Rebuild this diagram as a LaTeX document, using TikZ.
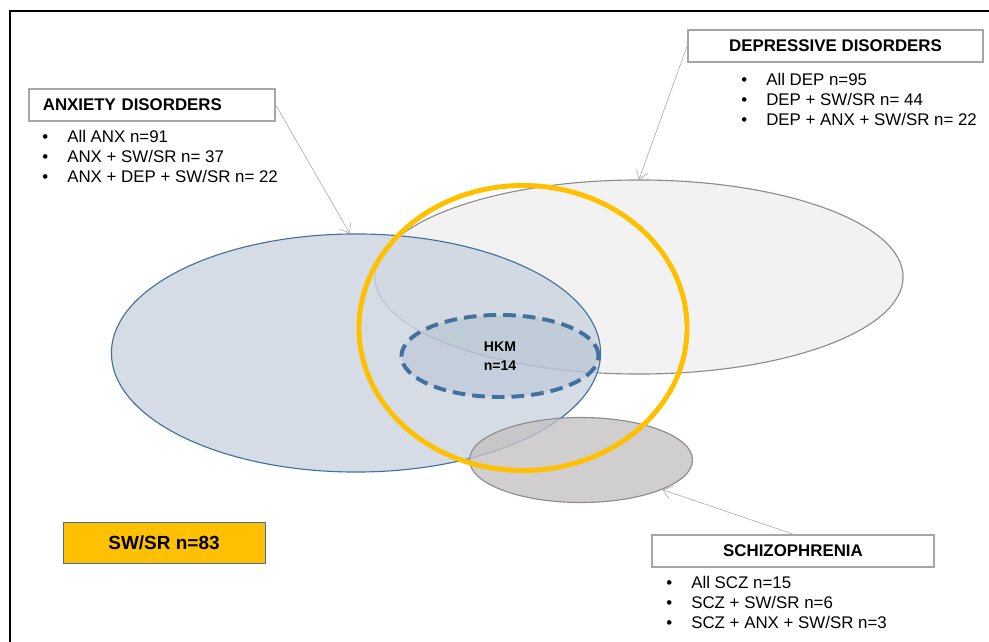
\documentclass[tikz,border=0pt]{standalone}
\usepackage{fontspec}
\setmainfont{Liberation Sans}
\usetikzlibrary{shapes.geometric,arrows.meta}
\definecolor{anxfill}{HTML}{CCD3DF}
\definecolor{anxline}{HTML}{41719C}
\definecolor{depfill}{HTML}{F2F2F2}
\definecolor{depline}{HTML}{8C8C8C}
\definecolor{sczfill}{HTML}{C4C2C2}
\definecolor{swyellow}{HTML}{FFC000}
\definecolor{boxgray}{HTML}{A6A6A6}
\tikzset{
  headbox/.style={draw=boxgray, line width=1.2pt, minimum height=0.8cm, inner sep=0pt, font=\bfseries\fontsize{12}{14}\selectfont},
  bullets/.style={align=left, inner sep=0pt, anchor=north west, font=\fontsize{12}{14.2}\selectfont},
  pointer/.style={draw=boxgray, thin, -{Straight Barb[length=6pt,width=9pt]}},
  group/.style={ellipse, inner sep=0pt, line width=.8pt},
}
\newcommand{\bul}{\makebox[0.625cm][l]{\textbullet}}
\begin{document}
\begin{tikzpicture}[x=0.025cm,y=-0.025cm]
	% field
	\useasboundingbox (0,0) rectangle (989,642);
	\draw [line width=2pt] (10,642) -- (10,11) -- (989,11);

	% groups
	\node (dep) [group, draw=depline, fill=depfill, minimum width=13.2cm, minimum height=4.85cm] at (639,277) {};
	\node (anx) [group, draw=anxline, fill=anxfill, fill opacity=.8, minimum width=12.225cm, minimum height=5.95cm] at (356,353) {};
	\node (hkm) [group, draw=anxline, fill=anxline, fill opacity=.12, text opacity=1, line width=2.8pt, dash pattern=on 9pt off 5pt, minimum width=4.925cm, minimum height=2.05cm, align=center, font=\bfseries\fontsize{10}{13.5}\selectfont] at (500,356) {HKM\\n=14};
	\node (scz) [group, draw=depline, fill=sczfill, fill opacity=.8, minimum width=5.575cm, minimum height=2.125cm] at (581,460) {};
	% SW/SR
	\draw [swyellow, line width=3.5pt] (523,328) ellipse [x radius=4.1cm, y radius=3.5625cm];
	\node (sw) [draw=anxline, fill=swyellow, minimum width=5.05cm, minimum height=1.025cm, font=\bfseries\fontsize{13.5}{16}\selectfont] at (164,542.5) {SW/SR n=83};

	% headers
	\node (anxhead) [headbox, anchor=west, minimum width=6.15cm, text width=5.45cm, align=left] at (28,105) {ANXIETY DISORDERS};
	\node (dephead) [headbox, minimum width=7.375cm] at (835.5,46) {DEPRESSIVE DISORDERS};
	\node (sczhead) [headbox, minimum width=7.05cm] at (793,551) {SCHIZOPHRENIA};
	\draw [pointer] (anxhead.east) -- (anx.93);
	\draw [pointer] (dephead.west) -- (dep.north);
	\draw [pointer] (sczhead.north) -- (scz.-20);

	% counts
	\node (anxlist) [bullets] at (42,130) {\bul All ANX n=91\\ \bul ANX + SW/SR n= 37\\ \bul ANX + DEP + SW/SR n= 22};
	\node (deplist) [bullets] at (741,73) {\bul All DEP n=95\\ \bul DEP + SW/SR n= 44\\ \bul DEP + ANX + SW/SR n= 22};
	\node (sczlist) [bullets] at (666,576) {\bul All SCZ n=15\\ \bul SCZ + SW/SR n=6\\ \bul SCZ + ANX + SW/SR n=3};
\end{tikzpicture}
\end{document}
